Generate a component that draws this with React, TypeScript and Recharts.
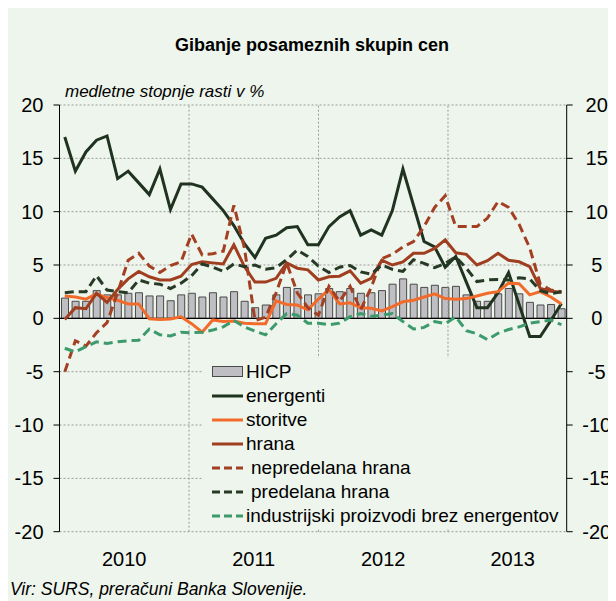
import React from 'react';
import {
  ComposedChart,
  Bar,
  Line,
  XAxis,
  YAxis,
  CartesianGrid,
  ReferenceLine,
} from 'recharts';

// ---------- data ----------
const years = ['2010', '2011', '2012', '2013'];
const monthCodes = ['01', '02', '03', '04', '05', '06', '07', '08', '09', '10', '11', '12'];
const categories = years.flatMap((y) => monthCodes.map((m) => `${y}-${m}`));

const hicp = [1.9, 1.6, 1.6, 2.6, 2.2, 2.2, 2.35, 2.4, 2.1, 2.1, 1.65, 2.2, 2.35, 2.0, 2.4, 2.0, 2.5, 1.6, 1.0, 1.25, 2.2, 2.9, 2.8, 2.2, 2.3, 2.8, 2.5, 2.8, 2.35, 2.4, 2.6, 3.2, 3.7, 3.2, 2.9, 3.1, 2.9, 3.0, 2.2, 1.6, 1.6, 2.3, 2.8, 2.3, 1.5, 1.25, 1.3, 0.9];
const energenti = [17.0, 13.8, 15.6, 16.7, 17.1, 13.1, 13.8, 12.7, 11.6, 14.0, 10.2, 12.6, 12.6, 12.3, 11.2, 10.1, 8.7, 7.0, 5.7, 7.5, 7.8, 8.5, 8.6, 6.9, 6.9, 8.6, 9.5, 10.1, 7.8, 8.3, 7.8, 10.1, 14.0, 10.6, 7.2, 6.7, 4.8, 5.8, 3.4, 1.0, 1.0, 2.4, 4.3, 1.3, -1.7, -1.7, -0.2, 1.4];
const storitve = [2.1, 2.0, 1.8, 2.3, 1.95, 1.7, 1.35, 1.35, -0.05, -0.1, -0.05, 0.15, -0.5, -1.3, -0.15, -0.3, -0.25, -0.45, -0.5, -0.5, 1.65, 1.3, 1.25, 0.8, 1.8, 2.7, 1.35, 1.45, 1.0, 0.95, 0.7, 1.1, 1.55, 1.7, 2.0, 2.3, 1.85, 1.8, 1.85, 2.1, 2.35, 2.5, 3.3, 3.25, 2.2, 2.5, 2.0, 1.35];
const hrana = [-0.1, 1.0, 0.9, 2.35, 1.5, 2.7, 3.7, 4.4, 3.9, 3.6, 3.6, 3.95, 5.05, 5.3, 5.2, 5.1, 6.9, 4.85, 3.4, 3.4, 3.75, 5.2, 4.7, 4.55, 3.6, 3.9, 3.95, 4.45, 3.3, 3.75, 5.45, 5.0, 5.3, 6.1, 6.1, 6.55, 7.35, 6.15, 6.0, 5.0, 5.4, 6.1, 5.45, 5.3, 4.85, 2.8, 2.55, 2.45];
const nepredelana = [-5.0, -2.1, -2.6, -1.35, -0.4, 2.4, 5.45, 6.1, 4.9, 4.3, 4.95, 5.3, 7.9, 5.95, 6.05, 6.3, 10.6, 6.6, -0.2, 0.1, 2.4, 5.2, 2.4, 1.0, 0.3, 3.0, 1.6, 3.0, 0.8, 2.9, 5.6, 6.0, 6.7, 7.2, 8.6, 10.4, 11.5, 8.6, 8.6, 8.6, 9.4, 10.95, 10.4, 8.8, 6.6, 3.2, 2.65, 2.5];
const predelana = [2.4, 2.5, 2.5, 4.0, 2.65, 2.5, 2.4, 3.6, 3.3, 3.2, 2.8, 3.3, 4.0, 5.1, 4.8, 4.4, 5.1, 4.85, 5.0, 4.6, 4.75, 5.5, 6.4, 5.8, 4.9, 4.3, 4.8, 4.95, 4.35, 4.15, 5.0, 4.6, 4.4, 5.5, 5.15, 4.75, 5.15, 5.75, 4.7, 3.45, 3.6, 3.65, 3.6, 3.8, 3.7, 2.6, 2.3, 2.5];
const industrijski = [-2.8, -3.15, -2.65, -2.2, -2.35, -2.2, -2.1, -2.05, -1.0, -1.55, -1.65, -1.3, -1.35, -1.3, -1.1, -0.8, -0.2, -0.8, -1.2, -1.55, -0.5, 0.45, 0.3, -0.45, -0.45, -0.6, -0.45, 0.15, 0.45, 0.2, 0.3, 0.45, -0.3, -1.0, -0.85, -0.3, -0.5, 0.15, -1.15, -1.45, -2.0, -1.4, -1.05, -0.8, -0.45, -0.3, -0.15, -0.6];

const yTicks = [-20, -15, -10, -5, 0, 5, 10, 15, 20];
const yearTickPositions = [6, 18, 30, 42];
const yearBoundaries = [12, 24, 36];

const title = 'Gibanje posameznih skupin cen';
const subtitle = 'medletne stopnje rasti v %';
const source = 'Vir: SURS, preračuni Banka Slovenije.';

const COLORS = {
  bg: '#EEF5EC',
  hicpFill: '#BFBFC3',
  hicpStroke: '#4A4A4A',
  energenti: '#1F3320',
  storitve: '#F26B2B',
  hrana: '#A03E20',
  nepredelana: '#A33F22',
  predelana: '#263A26',
  industrijski: '#3C9A6C',
};

const legendItems = [
  { key: 'hicp', label: 'HICP', kind: 'bar', color: COLORS.hicpFill, indent: 0 },
  { key: 'energenti', label: 'energenti', kind: 'solid', color: COLORS.energenti, indent: 0 },
  { key: 'storitve', label: 'storitve', kind: 'solid', color: COLORS.storitve, indent: 0 },
  { key: 'hrana', label: 'hrana', kind: 'solid', color: COLORS.hrana, indent: 0 },
  { key: 'nepredelana', label: 'nepredelana hrana', kind: 'dash', color: COLORS.nepredelana, indent: 5 },
  { key: 'predelana', label: 'predelana hrana', kind: 'dash', color: COLORS.predelana, indent: 5 },
  { key: 'industrijski', label: 'industrijski proizvodi brez energentov', kind: 'dash', color: COLORS.industrijski, indent: 0 },
];

const data = categories.map((c, i) => ({
  month: c,
  hicp: hicp[i],
  energenti: energenti[i],
  storitve: storitve[i],
  hrana: hrana[i],
  nepredelana: nepredelana[i],
  predelana: predelana[i],
  industrijski: industrijski[i],
}));

const FONT = '"Liberation Sans", Arial, Helvetica, sans-serif';
const W = 608;
const H = 593;

const RightTick = (props: any) => {
  const { x, y, payload } = props;
  return (
    <text x={x + 22} y={y} dy="0.355em" textAnchor="middle" fontSize={20} fill="#000" fontFamily={FONT}>
      {payload.value}
    </text>
  );
};

const YearTick = (props: any) => {
  const { x, y, payload } = props;
  const idx = yearTickPositions.indexOf(payload.value);
  return (
    <text x={x} y={y} dy="0.71em" textAnchor="middle" fontSize={20} fill="#000" fontFamily={FONT}>
      {idx >= 0 ? years[idx] : ''}
    </text>
  );
};

const DASH = '9 5';

function Swatch({ kind, color }: { kind: string; color: string }) {
  if (kind === 'bar') {
    return (
      <svg width={31} height={12} style={{ display: 'block' }}>
        <rect x={0.5} y={0.5} width={30} height={10} fill={color} stroke={COLORS.hicpStroke} strokeWidth={1} />
      </svg>
    );
  }
  return (
    <svg width={31} height={12} style={{ display: 'block' }}>
      <line
        x1={0}
        y1={6}
        x2={31}
        y2={6}
        stroke={color}
        strokeWidth={3}
        strokeDasharray={kind === 'dash' ? '8 4' : undefined}
      />
    </svg>
  );
}

export default function App() {
  return (
    <div
      style={{
        position: 'relative',
        width: W,
        height: H,
        background: COLORS.bg,
        fontFamily: FONT,
        color: '#000',
      }}
    >
      <div
        style={{
          position: 'absolute',
          top: 27,
          left: 0,
          width: W,
          textAlign: 'center',
          fontWeight: 'bold',
          fontSize: 18,
          lineHeight: '20px',
        }}
      >
        {title}
      </div>
      <div
        style={{
          position: 'absolute',
          top: 74,
          left: 57,
          fontStyle: 'italic',
          fontSize: 17,
          lineHeight: '20px',
          whiteSpace: 'nowrap',
        }}
      >
        {subtitle}
      </div>

      <ComposedChart
        width={W}
        height={H}
        data={data}
        margin={{ top: 97, right: 0, bottom: 29.3, left: 0 }}
        barCategoryGap={0}
      >
        <XAxis
          xAxisId="num"
          type="number"
          domain={[0, 48]}
          ticks={yearTickPositions}
          allowDataOverflow
          axisLine={false}
          tickLine={false}
          tickSize={0}
          tickMargin={20}
          height={40}
          tick={<YearTick />}
        />
        <XAxis xAxisId="cat" dataKey="month" type="category" hide height={0} />
        <YAxis
          yAxisId="left"
          orientation="left"
          domain={[-20, 20]}
          ticks={yTicks}
          width={51.5}
          axisLine={{ stroke: '#000', strokeWidth: 1 }}
          tickLine={{ stroke: '#000', strokeWidth: 1 }}
          tickSize={6}
          tickMargin={10}
          tick={{ fontSize: 20, fill: '#000', fontFamily: FONT }}
          allowDataOverflow
        />
        <YAxis
          yAxisId="right"
          orientation="right"
          domain={[-20, 20]}
          ticks={yTicks}
          width={49.3}
          axisLine={{ stroke: '#000', strokeWidth: 1 }}
          tickLine={{ stroke: '#000', strokeWidth: 1 }}
          tickSize={6}
          tickMargin={2}
          tick={<RightTick />}
          allowDataOverflow
        />
        <CartesianGrid
          xAxisId="cat"
          yAxisId="left"
          vertical={false}
          stroke="#9A9A9A"
          strokeDasharray="2 2"
        />
        {yearBoundaries.map((b) => (
          <ReferenceLine
            key={b}
            xAxisId="num"
            yAxisId="left"
            x={b}
            stroke="#9A9A9A"
            strokeDasharray="2 2"
          />
        ))}
        <Bar
          xAxisId="cat"
          yAxisId="left"
          dataKey="hicp"
          fill={COLORS.hicpFill}
          stroke={COLORS.hicpStroke}
          strokeWidth={1}
          barSize={7}
          isAnimationActive={false}
        />
        <ReferenceLine xAxisId="num" yAxisId="left" y={0} stroke="#000" strokeWidth={1.2} />
        <Line xAxisId="cat" yAxisId="left" type="linear" dataKey="energenti" stroke={COLORS.energenti} strokeWidth={3} dot={false} isAnimationActive={false} />
        <Line xAxisId="cat" yAxisId="left" type="linear" dataKey="storitve" stroke={COLORS.storitve} strokeWidth={3} dot={false} isAnimationActive={false} />
        <Line xAxisId="cat" yAxisId="left" type="linear" dataKey="hrana" stroke={COLORS.hrana} strokeWidth={3} dot={false} isAnimationActive={false} />
        <Line xAxisId="cat" yAxisId="left" type="linear" dataKey="nepredelana" stroke={COLORS.nepredelana} strokeWidth={3} strokeDasharray={DASH} dot={false} isAnimationActive={false} />
        <Line xAxisId="cat" yAxisId="left" type="linear" dataKey="predelana" stroke={COLORS.predelana} strokeWidth={3} strokeDasharray={DASH} dot={false} isAnimationActive={false} />
        <Line xAxisId="cat" yAxisId="left" type="linear" dataKey="industrijski" stroke={COLORS.industrijski} strokeWidth={3} strokeDasharray={DASH} dot={false} isAnimationActive={false} />
      </ComposedChart>

      <div
        style={{
          position: 'absolute',
          left: 194,
          top: 350,
          width: 364,
          height: 170,
          background: COLORS.bg,
          paddingTop: 2,
          boxSizing: 'border-box',
        }}
      >
        {legendItems.map((it) => (
          <div
            key={it.key}
            style={{ display: 'flex', alignItems: 'center', height: 24, paddingLeft: 10 }}
          >
            <Swatch kind={it.kind} color={it.color} />
            <span
              style={{
                marginLeft: 3 + it.indent,
                fontSize: 19,
                lineHeight: '24px',
                whiteSpace: 'nowrap',
              }}
            >
              {it.label}
            </span>
          </div>
        ))}
      </div>

      <div
        style={{
          position: 'absolute',
          top: 571,
          left: 2,
          fontStyle: 'italic',
          fontSize: 17.5,
          lineHeight: '20px',
          whiteSpace: 'nowrap',
        }}
      >
        {source}
      </div>
    </div>
  );
}
